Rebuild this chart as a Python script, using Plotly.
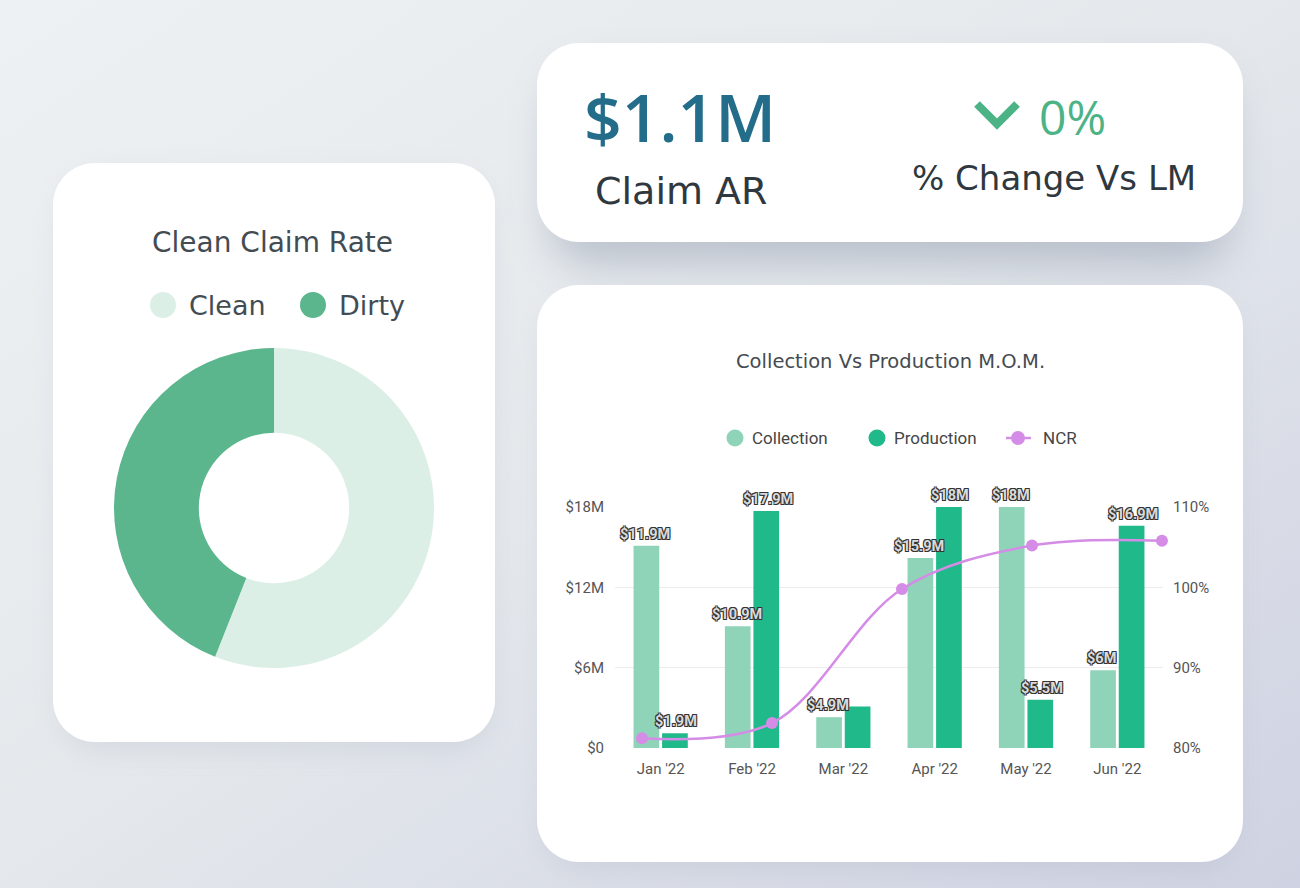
import base64
import plotly.graph_objects as go

W, H = 1300, 888

# ---------------- data ----------------
months = ["Jan '22", "Feb '22", "Mar '22", "Apr '22", "May '22", "Jun '22"]
collection = [15.1, 9.1, 2.3, 14.2, 18.0, 5.8]
production = [1.1, 17.7, 3.1, 18.0, 3.6, 16.6]
collection_labels = ["$11.9M", "$10.9M", "$4.9M", "$15.9M", "$18M", "$6M"]
production_labels = ["$1.9M", "$17.9M", "", "$18M", "$5.5M", "$16.9M"]
ncr_index = [0, 1, 2, 3, 4]
ncr_values = [81.2, 83.1, 99.8, 105.2, 105.8]
y_tickvals = [0, 6, 12, 18]
y_ticktext = ["$0", "$6M", "$12M", "$18M"]
ncr_tickvals = [80, 90, 100, 110]
ncr_ticktext = ["80%", "90%", "100%", "110%"]
claim_labels = ["Clean", "Dirty"]
claim_values = [56, 44]
kpi_value = "$1.1M"
kpi_label = "Claim AR"
kpi_change = "0%"
kpi_change_label = "% Change Vs LM"

C_COLL = "#8fd4b8"
C_PROD = "#20b98a"
C_NCR = "#d48ce6"
C_CLEAN = "#dcefe6"
C_DIRTY = "#5bb58d"
CARD_FONT = "DejaVu Sans"
KPI_FONT = "Open Sans"
CHART_FONT = "Roboto"


def px(x):
    return x / W


def py(y):
    return 1 - y / H


def P(x, y):
    return f"{px(x):.5f},{py(y):.5f}"


def rrect(x0, y0, x1, y1, r):
    k = 0.5523 * r
    return (f"M{P(x0 + r, y0)} L{P(x1 - r, y0)} "
            f"C{P(x1 - r + k, y0)} {P(x1, y0 + r - k)} {P(x1, y0 + r)} "
            f"L{P(x1, y1 - r)} "
            f"C{P(x1, y1 - r + k)} {P(x1 - r + k, y1)} {P(x1 - r, y1)} "
            f"L{P(x0 + r, y1)} "
            f"C{P(x0 + r - k, y1)} {P(x0, y1 - r + k)} {P(x0, y1 - r)} "
            f"L{P(x0, y0 + r)} "
            f"C{P(x0, y0 + r - k)} {P(x0 + r - k, y0)} {P(x0 + r, y0)} Z")


cards = [(53, 163, 495, 742), (537, 43, 1243, 242), (537, 285, 1243, 862)]

# background gradient + soft shadows (no text)
svg = f"""<svg xmlns='http://www.w3.org/2000/svg' width='{W}' height='{H}' viewBox='0 0 {W} {H}'>
<defs>
<linearGradient id='g' x1='0' y1='0' x2='1' y2='1'>
<stop offset='0' stop-color='#eef1f3'/>
<stop offset='0.5' stop-color='#e4e8ec'/>
<stop offset='1' stop-color='#cfd2e2'/>
</linearGradient>
<filter id='b' x='-30%' y='-30%' width='160%' height='180%'><feGaussianBlur stdDeviation='20'/></filter>
<filter id='b2' x='-30%' y='-30%' width='160%' height='180%'><feGaussianBlur stdDeviation='14'/></filter>
</defs>
<rect width='{W}' height='{H}' fill='url(#g)'/>
<rect x='550' y='70' width='680' height='195' rx='40' fill='#7d879c' opacity='0.40' filter='url(#b)'/>
<rect x='60' y='175' width='430' height='575' rx='40' fill='#8a93a6' opacity='0.18' filter='url(#b2)'/>
<rect x='545' y='300' width='690' height='570' rx='40' fill='#8a93a6' opacity='0.18' filter='url(#b2)'/>
</svg>"""
svg_uri = "data:image/svg+xml;base64," + base64.b64encode(svg.encode()).decode()

fig = go.Figure()

# donut
fig.add_trace(go.Pie(
    labels=claim_labels, values=claim_values, hole=0.47, sort=False,
    direction="clockwise", rotation=0,
    marker=dict(colors=[C_CLEAN, C_DIRTY], line=dict(width=0)),
    textinfo="none", showlegend=False, automargin=False,
    domain=dict(x=[px(114), px(434)], y=[py(668), py(348)]),
))

# bars
fig.add_trace(go.Bar(
    x=months, y=collection, name="Collection", marker_color=C_COLL,
    hovertext=collection_labels, showlegend=False,
))
fig.add_trace(go.Bar(
    x=months, y=production, name="Production", marker_color=C_PROD,
    hovertext=production_labels, showlegend=False,
))
# NCR line
fig.add_trace(go.Scatter(
    x=ncr_index, y=ncr_values, name="NCR", mode="lines+markers",
    line=dict(color=C_NCR, width=2.5, shape="spline", smoothing=1.0),
    marker=dict(color=C_NCR, size=12),
    xaxis="x2", yaxis="y2", cliponaxis=False, showlegend=False,
))

tick_font = dict(family=CHART_FONT, size=15, color="#555")
x_dom = [px(615), px(1163)]
fig.update_layout(
    template="none",
    width=W, height=H, autosize=False,
    margin=dict(l=0, r=0, t=0, b=0, pad=0, autoexpand=False),
    paper_bgcolor="#e4e8ec", plot_bgcolor="rgba(0,0,0,0)",
    barmode="group", bargap=0.375, bargroupgap=0.1,
    xaxis=dict(domain=x_dom, showgrid=False, showline=False, ticks="",
               zeroline=False, automargin=False,
               tickfont=tick_font, ticklabelstandoff=10),
    yaxis=dict(domain=[py(748), py(507)], range=[0, 18],
               tickvals=y_tickvals, ticktext=y_ticktext,
               showgrid=True, gridcolor="#ececec", gridwidth=1,
               zeroline=False, showline=False, ticks="", automargin=False,
               tickfont=tick_font, ticklabelstandoff=10),
    xaxis2=dict(overlaying="x", domain=x_dom, range=[-0.2077, 4.008],
                visible=False, anchor="y2", automargin=False),
    yaxis2=dict(overlaying="y", side="right", anchor="x2", range=[80, 110],
                tickvals=ncr_tickvals, ticktext=ncr_ticktext, showgrid=False,
                zeroline=False, showline=False, ticks="", automargin=False,
                tickfont=tick_font, ticklabelstandoff=9),
    images=[dict(source=svg_uri, xref="paper", yref="paper", x=0, y=1,
                 sizex=1, sizey=1, xanchor="left", yanchor="top",
                 sizing="stretch", layer="below")],
    showlegend=False,
)

shapes = []
for (x0, y0, x1, y1) in cards:
    shapes.append(dict(type="path", path=rrect(x0, y0, x1, y1, 42),
                       xref="paper", yref="paper", fillcolor="#ffffff",
                       line=dict(width=0), layer="below"))


def circle(cx, cy, r, color):
    return dict(type="circle", xref="paper", yref="paper",
                x0=px(cx - r), x1=px(cx + r), y0=py(cy + r), y1=py(cy - r),
                fillcolor=color, line=dict(width=0), layer="above")


# donut legend
shapes.append(circle(163, 305, 13, C_CLEAN))
shapes.append(circle(313, 305, 13, C_DIRTY))
# bar chart legend
shapes.append(circle(735, 438, 8.5, C_COLL))
shapes.append(circle(877, 438, 8.5, C_PROD))
shapes.append(dict(type="line", xref="paper", yref="paper",
                   x0=px(1006), x1=px(1031), y0=py(438), y1=py(438),
                   line=dict(color=C_NCR, width=2.5)))
shapes.append(circle(1018, 438, 7, C_NCR))
# down chevron
shapes.append(dict(type="path", xref="paper", yref="paper",
                   path=f"M{P(977, 104)} L{P(997, 124)} L{P(1017, 104)}",
                   line=dict(color="#4cb386", width=8)))
fig.update_layout(shapes=shapes)


def ann(text, x, y, size, color, family=CARD_FONT, xanchor="center", weight=None):
    f = dict(family=family, size=size, color=color)
    if weight:
        f["weight"] = weight
    return dict(text=text, x=px(x), y=py(y), xref="paper", yref="paper",
                xanchor=xanchor, yanchor="middle", showarrow=False, font=f)


annotations = [
    ann(kpi_value, 680, 116, 66, "#246d8a", family=KPI_FONT, weight=600),
    ann(kpi_label, 681, 191, 38, "#2f383e"),
    ann(kpi_change, 1072, 116, 48, "#4cb386", family=KPI_FONT),
    ann(kpi_change_label, 1054, 178, 34, "#2f383e"),
    ann("Clean Claim Rate", 272, 242, 28, "#434c53"),
    ann("Clean", 187, 305, 27, "#434c53", xanchor="left"),
    ann("Dirty", 337, 305, 27, "#434c53", xanchor="left"),
    ann("Collection Vs Production M.O.M.", 890, 361, 19.5, "#454b50"),
    ann("Collection", 750, 438, 17, "#454545", family=CHART_FONT, xanchor="left"),
    ann("Production", 892, 438, 17, "#454545", family=CHART_FONT, xanchor="left"),
    ann("NCR", 1041, 438, 17, "#454545", family=CHART_FONT, xanchor="left"),
]

# bar value labels: light fill with dark outline, drawn above all marks
label_font = dict(family=CHART_FONT, size=14.5, color="#dadada", weight=700,
                  shadow="1px 1px 0 #333, -1px -1px 0 #333, 1px -1px 0 #333, "
                         "-1px 1px 0 #333, 0 1px 0 #333, 0 -1px 0 #333")
for series, labels, shift in ((collection, collection_labels, -15.5),
                              (production, production_labels, 15.5)):
    for m, v, t in zip(months, series, labels):
        if not t:
            continue
        annotations.append(dict(text=t, x=m, y=v, xref="x", yref="y",
                                xshift=shift, yshift=1, xanchor="center",
                                yanchor="bottom", showarrow=False,
                                font=label_font))

fig.update_layout(annotations=annotations)

fig.write_html("out.html")
